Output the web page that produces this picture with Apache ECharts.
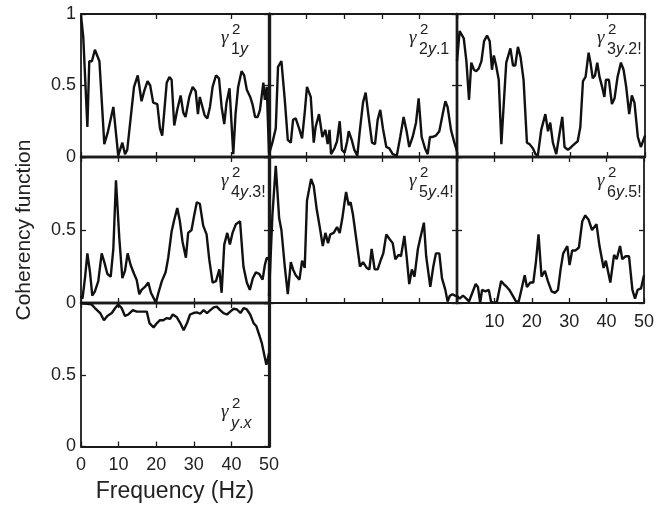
<!DOCTYPE html>
<html><head><meta charset="utf-8">
<script src="https://cdn.jsdelivr.net/npm/echarts@6/dist/echarts.min.js"></script>
<style>html,body{margin:0;padding:0;background:#fff}#c{width:657px;height:508px}</style>
</head><body><div id="c"></div>
<script>
// ---- data (frequency in Hz, coherency) ----
const f1=[0,0.6,1.7,2.2,2.9,3.7,4.3,4.9,6.2,7.1,8.6,9.9,11,11.7,12.3,14.1,15.1,15.5,16.1,16.8,17.7,18.4,19.2,20.3,21,21.6,22.8,23.5,24.1,24.8,25.6,26.5,27.2,27.8,28.8,29.7,30.5,31.1,31.6,32.3,32.9,33.6,34.3,35,35.9,36.7,37.4,38.1,38.7,39.5,40.5,41.1,41.8,42.7,43.4,44.1,45,45.6,46.3,47,47.6,48.5,48.9,49.4,50];
const c1=[0.99,0.84,0.21,0.67,0.67,0.75,0.71,0.67,0.09,0.17,0.35,0.01,0.10,0.02,0.05,0.49,0.57,0.57,0.39,0.46,0.53,0.50,0.38,0.37,0.20,0.15,0.52,0.56,0.54,0.22,0.33,0.43,0.31,0.28,0.42,0.49,0.46,0.30,0.42,0.35,0.29,0.27,0.35,0.49,0.57,0.55,0.35,0.23,0.38,0.48,0.02,0.30,0.49,0.60,0.57,0.47,0.42,0.37,0.28,0.28,0.33,0.52,0.40,0.49,0.03];
const f2=[0,0.9,1.8,2.4,3.3,4.2,5,5.8,6.4,7.1,8,8.8,9.5,10.1,11.1,11.9,12.4,13.3,14.2,15,15.6,16.1,16.5,17.4,18.1,18.8,19.4,20.1,20.8,21.2,22,22.7,23.5,24.1,25,25.7,26.5,27.4,28.2,28.9,29.6,30.3,31.2,32,32.9,34,34.9,35.8,36.6,37.3,38.2,39.1,39.8,40.6,41.5,42.2,42.8,43.5,44.4,45.3,46.2,46.9,47.5,48.4,49.3,50];
const c2=[0.02,0.10,0.20,0.63,0.67,0.40,0.12,0.10,0.26,0.27,0.20,0.13,0.31,0.49,0.42,0.10,0.21,0.30,0.14,0.19,0.09,0.19,0.02,0.06,0.11,0.25,0.05,0.03,0.11,0.18,0.12,0.05,0.01,0.17,0.38,0.45,0.28,0.10,0.09,0.26,0.33,0.20,0.07,0.06,0.02,0.01,0.14,0.28,0.18,0.07,0.14,0.24,0.41,0.14,0.06,0.02,0.14,0.14,0.15,0.18,0.30,0.39,0.35,0.19,0.10,0.04];
const f3=[0,0.7,1.8,2.5,3.2,3.8,4.5,5.1,5.8,6.5,7.2,8,8.7,9.3,9.8,10.4,11.1,11.8,12.5,13.1,14.2,14.9,15.5,16.2,16.9,17.7,18.6,19.3,20.2,20.9,21.5,22.4,23.5,24.2,24.8,25.5,26.4,27.3,28,28.6,29.5,30.4,31.2,32.1,32.8,33.5,34.2,35,35.5,36.1,36.7,37.3,37.9,38.6,39.2,39.6,40.4,41.2,41.9,42.7,43.6,44.3,45,45.8,46.5,47.2,48.1,48.9,50];
const c3=[0.67,0.88,0.83,0.67,0.40,0.66,0.61,0.60,0.62,0.67,0.81,0.85,0.81,0.61,0.71,0.64,0.54,0.09,0.40,0.66,0.76,0.64,0.64,0.77,0.70,0.54,0.10,0.09,0.06,0.02,0.01,0.19,0.30,0.18,0.24,0.10,0.02,0.17,0.28,0.07,0.05,0.07,0.09,0.11,0.21,0.53,0.56,0.73,0.66,0.55,0.57,0.66,0.56,0.49,0.42,0.54,0.54,0.37,0.41,0.56,0.66,0.61,0.49,0.30,0.43,0.38,0.14,0.07,0.15];
const f4=[0,0.4,1.1,1.7,2.4,3,3.7,4.6,5.5,6.2,7,7.9,8.6,9.3,10.2,11,11.7,12.4,13.2,14.1,14.8,15.5,16.1,17,17.9,18.6,19.4,19.9,20.6,21.5,22.5,23.2,24.1,24.8,25.6,26.3,27,27.9,28.5,29.4,30.1,30.8,31.6,32.5,33.4,34.1,35,35.9,36.8,37.4,38.1,38.9,39.6,40.3,41.2,42.3,43.2,44.1,44.9,45.7,46.5,47.4,48.3,48.9,49.4,50];
const c4=[0.05,0.03,0.18,0.34,0.21,0.05,0.08,0.15,0.34,0.28,0.20,0.18,0.37,0.84,0.44,0.17,0.22,0.34,0.26,0.20,0.16,0.06,0.09,0.11,0.14,0.07,0.03,0.00,0.07,0.15,0.21,0.31,0.49,0.57,0.65,0.56,0.42,0.31,0.48,0.50,0.60,0.69,0.68,0.53,0.47,0.30,0.14,0.15,0.23,0.07,0.40,0.48,0.40,0.48,0.54,0.56,0.25,0.14,0.09,0.17,0.21,0.20,0.16,0.26,0.31,0.30];
const f5=[0,0.9,1.8,2.7,3.3,4.2,5,5.8,6.4,7.1,8.1,8.8,9.5,10.1,11.2,11.9,12.7,13.5,14.3,15,15.7,16.3,17.2,18.1,18.8,19.5,20.1,20.5,21.2,21.7,22.3,23.2,24.2,25,26,26.7,27.3,28.1,28.9,29.8,30.4,31.2,32,32.9,33.6,34.5,35.1,36,36.6,37.3,38,38.7,39.6,40.2,41.2,41.8,42.9,43.7,44.4,45.3,46,46.9,47.5,48.1,48.8,49.5,50];
const c5=[0.05,0.60,0.94,0.58,0.50,0.25,0.06,0.28,0.23,0.19,0.16,0.29,0.24,0.70,0.85,0.80,0.64,0.52,0.39,0.48,0.41,0.47,0.48,0.52,0.48,0.58,0.69,0.76,0.67,0.69,0.61,0.44,0.25,0.28,0.24,0.23,0.37,0.23,0.23,0.30,0.34,0.47,0.44,0.41,0.30,0.33,0.32,0.46,0.32,0.13,0.23,0.18,0.37,0.44,0.55,0.32,0.11,0.25,0.34,0.34,0.17,0.09,0.01,0.05,0.06,0.05,0.05];
const f6=[0,0.7,1.6,2.5,3.2,4.1,5,5.6,6.2,6.7,7.6,8.5,9.1,10,10.7,11.8,12.5,13.3,14,14.9,15.8,16.5,17.3,18.1,18.7,19.6,20.4,21.1,21.8,22.6,23.5,24.3,25.3,26.2,27,27.7,28.4,29.5,30.1,30.8,31.7,32.6,33.5,34.3,35.2,36.1,37.3,38.1,39.2,39.8,41,42,42.7,43.6,44.2,45.1,46,46.9,47.6,48.3,49.2,50];
const c6=[0.05,0.03,0.05,0.03,0.01,0.07,0.13,0.11,0.00,0.09,0.08,0.09,0.01,0.00,0.01,0.15,0.13,0.11,0.09,0.05,0.01,0.01,0.10,0.19,0.11,0.14,0.14,0.28,0.47,0.18,0.22,0.15,0.08,0.07,0.09,0.23,0.34,0.39,0.26,0.36,0.36,0.38,0.56,0.60,0.57,0.50,0.54,0.39,0.24,0.29,0.14,0.33,0.30,0.39,0.30,0.32,0.32,0.09,0.03,0.09,0.10,0.19];
const f7=[0,1.5,2.8,3.7,5.1,6.1,7,8.2,9.1,9.9,10.8,11.7,12.6,13.8,14.8,15.9,17.5,18.2,19.3,20.2,21,21.9,22.8,23.7,24.4,25.5,26.4,27.3,28.2,29,29.9,30.8,31.7,32.6,33.5,34.4,35.3,36.1,37,37.9,38.8,39.7,40.6,41.5,42.4,43.3,44.1,45,45.9,46.6,47.5,48.1,48.8,49.3,49.7,50];
const c7=[1.0,0.995,0.99,0.965,0.93,0.88,0.91,0.93,0.965,0.99,0.965,0.91,0.92,0.95,0.94,0.94,0.94,0.86,0.83,0.86,0.88,0.88,0.895,0.89,0.92,0.90,0.86,0.81,0.86,0.92,0.93,0.935,0.925,0.95,0.93,0.95,0.97,0.975,0.95,0.93,0.92,0.94,0.96,0.955,0.93,0.965,0.955,0.92,0.86,0.84,0.77,0.72,0.63,0.57,0.615,0.65];
const freqs=[f1,f2,f3,f4,f5,f6,f7];
const cohs=[c1,c2,c3,c4,c5,c6,c7];
const subLabels=['{n|1}{i|y}','{n|2}{i|y}{n|.1}','{n|3}{i|y}{n|.2!}','{n|4}{i|y}{n|.3!}','{n|5}{i|y}{n|.4!}','{n|6}{i|y}{n|.5!}','{i|y}{n|.}{i|x}'];
const yAxisTitle='Coherency function';
const xAxisTitle='Frequency (Hz)';

// ---- layout ----
const P=[
 {l:81,t:14,w:188,h:143},{l:269,t:14,w:188,h:143},{l:457,t:14,w:188,h:143},
 {l:81,t:157,w:188,h:146},{l:269,t:157,w:188,h:146},{l:457,t:157,w:188,h:146},
 {l:81,t:303,w:188,h:143.5}];
const O=1.8,I=2.4,T=3.2;
// edge widths [top,right,bottom,left]
const E=[[O,T,I,O],[O,I,I,T],[O,O,I,I],[I,T,I,O],[I,I,O,T],[I,O,O,I],[I,T,O,O]];
const showY=[true,false,false,true,false,false,true];
const showX=[false,false,false,false,false,true,true];
const LC='#1a1a1a', TC='#222';
const FONT='"Liberation Sans", Arial, sans-serif';

const grids=[],xAxes=[],yAxes=[],series=[],graphic=[];
P.forEach((p,i)=>{
  grids.push({left:p.l,top:p.t,width:p.w,height:p.h,show:false,containLabel:false});
  const xi=i===0?20:10;
  const xBase={gridIndex:i,type:'value',min:0,max:50,interval:xi,splitLine:{show:false},
    axisTick:{inside:true,length:5,lineStyle:{color:LC,width:1.3}}};
  xAxes.push(Object.assign({},xBase,{position:'bottom',
    axisLine:{onZero:false,lineStyle:{color:LC,width:E[i][2]}},
    axisLabel:{show:showX[i],margin:10,fontSize:18,color:TC,fontFamily:FONT,
      formatter:v=>(i===5&&v===0)?'':String(v)},
    name:i===6?xAxisTitle:'',nameLocation:'middle',nameGap:34,
    nameTextStyle:{fontSize:23,color:TC,fontFamily:FONT}}));
  xAxes.push(Object.assign({},xBase,{position:'top',
    axisLine:{onZero:false,lineStyle:{color:LC,width:E[i][0]}},axisLabel:{show:false}}));
  const yBase={gridIndex:i,type:'value',min:0,max:1,interval:0.5,splitLine:{show:false},
    axisTick:{inside:true,length:5,lineStyle:{color:LC,width:1.3}}};
  yAxes.push(Object.assign({},yBase,{position:'left',
    axisLine:{onZero:false,lineStyle:{color:LC,width:E[i][3]}},
    axisLabel:{show:showY[i],margin:5,fontSize:18,color:TC,fontFamily:FONT,
      formatter:v=>(i>0&&v===1)?'':String(v)},
    name:i===3?yAxisTitle:'',nameLocation:'middle',nameGap:46,nameRotate:90,
    nameTextStyle:{fontSize:21,color:TC,fontFamily:FONT}}));
  yAxes.push(Object.assign({},yBase,{position:'right',
    axisLine:{onZero:false,lineStyle:{color:LC,width:E[i][1]}},axisLabel:{show:false}}));
  series.push({type:'line',xAxisIndex:2*i,yAxisIndex:2*i,showSymbol:false,symbol:'none',
    data:freqs[i].map((f,k)=>[f,cohs[i][k]]),
    lineStyle:{color:'#111',width:2.4},animation:false,silent:true});
  // gamma label
  const gx=p.l+140, gy=(i===6)?p.t+107:p.t+22;
  graphic.push({type:'text',x:gx,y:gy-8,style:{text:'\u03b3',font:'italic 19px "Liberation Serif", serif',fill:TC}});
  graphic.push({type:'text',x:gx+11,y:gy-14,style:{text:'2',font:'15px '+FONT,fill:TC}});
  graphic.push({type:'text',x:gx+10,y:gy+6,style:{text:subLabels[i],
    rich:{n:{fontSize:16,fontFamily:FONT,fill:TC,color:TC},
          i:{fontSize:16,fontFamily:FONT,fontStyle:'italic',fill:TC,color:TC}}}});
});

const chart=echarts.init(document.getElementById('c'),null,{renderer:'canvas'});
chart.setOption({animation:false,backgroundColor:'#fff',grid:grids,xAxis:xAxes,yAxis:yAxes,series:series,graphic:graphic});
</script></body></html>
